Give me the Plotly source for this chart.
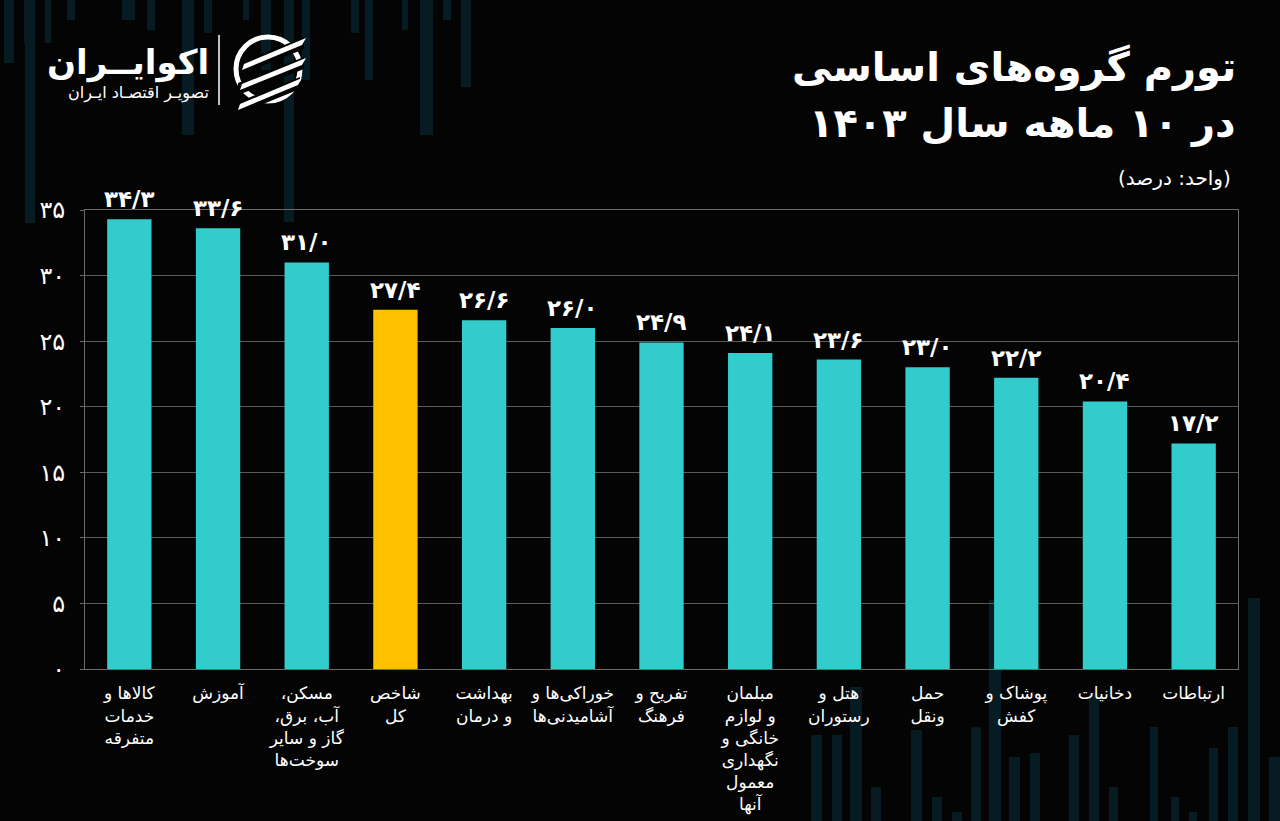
import plotly.graph_objects as go

# ---------------- data ----------------
categories = [
    "کالاها و<br>خدمات<br>متفرقه",
    "آموزش",
    "مسکن،\u200f<br>آب، برق،\u200f<br>گاز و سایر<br>سوخت‌ها",
    "شاخص<br>کل",
    "بهداشت<br>و درمان",
    "خوراکی‌ها و<br>آشامیدنی‌ها",
    "تفریح و<br>فرهنگ",
    "مبلمان<br>و لوازم<br>خانگی و<br>نگهداری<br>معمول<br>آنها",
    "هتل و<br>رستوران",
    "حمل<br>ونقل",
    "پوشاک و<br>کفش",
    "دخانیات",
    "ارتباطات",
]
values = [34.3, 33.6, 31.0, 27.4, 26.6, 26.0, 24.9, 24.1, 23.6, 23.0, 22.2, 20.4, 17.2]
highlight = "شاخص<br>کل"
y_tickvals = [0, 5, 10, 15, 20, 25, 30, 35]

title_line1 = "تورم گروه‌های اساسی"
title_line2 = "در ۱۰ ماهه سال ۱۴۰۳"
unit_text = "(واحد: درصد)"
logo_main = "اکوایــران"
logo_sub = "تصویـر اقتصـاد ایـران"

# ---------------- helpers ----------------
FA = str.maketrans("0123456789.", "۰۱۲۳۴۵۶۷۸۹/")
def fa(s):
    return str(s).translate(FA)

W, H = 1280, 821
L, R, T, B = 85, 1238, 210, 669
def px(x):
    return (x - L) / (R - L)
def py(y):
    return (B - y) / (B - T)

TEAL = "#33CCCC"
YELLOW = "#FFC000"
BG = "#040404"
DECO = "#071c22"
FONT = "DejaVu Sans"

xs = list(range(len(categories)))
colors = [YELLOW if c == highlight else TEAL for c in categories]
labels = [fa(f"{v:.1f}") for v in values]

fig = go.Figure()
fig.add_trace(go.Bar(
    x=xs,
    y=values,
    marker=dict(color=colors, line=dict(width=0)),
    width=0.5,
    hoverinfo="skip",
))

shapes = []
# decorative background columns (top)
top_cols = [(4, 14, 63), (24, 31, 43), (25, 35, 223), (45, 51, 43), (67, 75, 20),
            (122, 135, 20), (147, 155, 30), (182, 194, 135), (204, 212, 33),
            (243, 249, 20), (261, 271, 70), (284, 294, 222), (302, 310, 80),
            (351, 359, 33), (365, 373, 80), (402, 408, 30), (420, 433, 135),
            (443, 451, 20), (461, 471, 87)]
for x0, x1, y1 in top_cols:
    shapes.append(dict(type="rect", xref="paper", yref="paper", layer="below",
                       x0=px(x0), x1=px(x1), y0=py(0), y1=py(y1),
                       fillcolor=DECO, line=dict(width=0)))
# decorative background columns (bottom)
bot_cols = [(811, 822, 735), (832, 842, 735), (850, 862, 687), (871, 881, 787),
            (911, 922, 730), (932, 942, 797), (952, 962, 812), (971, 981, 727),
            (989, 1001, 600), (1009, 1020, 757), (1030, 1040, 753), (1069, 1079, 735),
            (1089, 1099, 693), (1109, 1118, 787), (1150, 1158, 727), (1171, 1179, 797),
            (1189, 1197, 812), (1209, 1218, 748), (1228, 1238, 727), (1248, 1260, 598),
            (1269, 1280, 757)]
for x0, x1, y0 in bot_cols:
    shapes.append(dict(type="rect", xref="paper", yref="paper", layer="below",
                       x0=px(x0), x1=px(x1), y0=py(y0), y1=py(H),
                       fillcolor=DECO, line=dict(width=0)))

# logo separator
shapes.append(dict(type="line", xref="paper", yref="paper",
                   x0=px(219), x1=px(219), y0=py(35), y1=py(105),
                   line=dict(color="white", width=1.5)))
# logo icon: ring + swooshes
cx, cy, r = 268, 69, 32
shapes.append(dict(type="circle", xref="paper", yref="paper",
                   x0=px(cx - r), x1=px(cx + r), y0=py(cy + r), y1=py(cy - r),
                   line=dict(color="white", width=5)))
def pathpts(pts):
    return "M " + " L ".join(f"{px(a):.5f},{py(b):.5f}" for a, b in pts) + " Z"
for (a0, b0, a1, b1) in [(240, 66, 304, 40), (238, 86, 304, 60), (236, 106, 300, 80)]:
    shapes.append(dict(type="path", xref="paper", yref="paper",
                       path=pathpts([(a0, b0 - 3), (a1, b1 - 3), (a1, b1 + 9), (a0, b0 + 9)]),
                       fillcolor=BG, line=dict(width=0)))
for (a0, b0, a1, b1) in [(244, 64, 306, 38), (242, 84, 306, 58), (240, 104, 302, 78)]:
    shapes.append(dict(type="path", xref="paper", yref="paper",
                       path=pathpts([(a0, b0), (a1, b1), (a1 - 4, b1 + 7), (a0 - 2, b0 + 6)]),
                       fillcolor="white", line=dict(width=0)))

annotations = [
    dict(text=f"<b>{title_line1}</b>", x=px(1238), y=py(42), xref="paper", yref="paper",
         xanchor="right", yanchor="top", showarrow=False,
         font=dict(family=FONT, size=40, color="white")),
    dict(text=f"<b>{title_line2}</b>", x=px(1238), y=py(98), xref="paper", yref="paper",
         xanchor="right", yanchor="top", showarrow=False,
         font=dict(family=FONT, size=40, color="white")),
    dict(text=unit_text, x=px(1233), y=py(178), xref="paper", yref="paper",
         xanchor="right", yanchor="middle", showarrow=False,
         font=dict(family=FONT, size=20, color="white")),
    dict(text=f"<b>{logo_main}</b>", x=px(211), y=py(62), xref="paper", yref="paper",
         xanchor="right", yanchor="middle", showarrow=False,
         font=dict(family=FONT, size=34, color="white")),
    dict(text=logo_sub, x=px(211), y=py(93), xref="paper", yref="paper",
         xanchor="right", yanchor="middle", showarrow=False,
         font=dict(family=FONT, size=16, color="white")),
]
# value labels above bars
for xi, v, lab in zip(xs, values, labels):
    annotations.append(dict(text=f"<b>{lab}</b>", x=xi, y=v, xref="x", yref="y",
                            xanchor="center", yanchor="bottom", yshift=5,
                            showarrow=False,
                            font=dict(family=FONT, size=23, color="white")))

fig.update_layout(
    width=W, height=H,
    margin=dict(l=L, r=W - R, t=T, b=H - B, pad=0, autoexpand=False),
    paper_bgcolor=BG, plot_bgcolor=BG,
    showlegend=False,
    shapes=shapes,
    annotations=annotations,
    font=dict(family=FONT, color="white"),
)
fig.update_xaxes(
    range=[-0.5, len(categories) - 0.5],
    tickvals=xs,
    ticktext=categories,
    tickfont=dict(family=FONT, size=17, color="white"),
    showgrid=False, zeroline=False, automargin=False,
    showline=True, linecolor="#6a6a6a", linewidth=1, mirror=True,
    ticks="", ticklabelstandoff=9,
)
fig.update_yaxes(
    range=[0, 35],
    tickvals=y_tickvals,
    ticktext=[fa(v) for v in y_tickvals],
    tickfont=dict(family=FONT, size=24, color="white"),
    showgrid=True, gridcolor="#5a5a5a", gridwidth=1,
    zeroline=False, automargin=False,
    showline=True, linecolor="#6a6a6a", linewidth=1, mirror=True,
    ticks="outside", ticklen=4, tickcolor="#6a6a6a",
    ticklabelstandoff=10,
)

fig.write_html("out.html",
               config={"displayModeBar": False},
               post_script="document.body.style.margin='0px';document.body.style.background='%s';" % BG)
